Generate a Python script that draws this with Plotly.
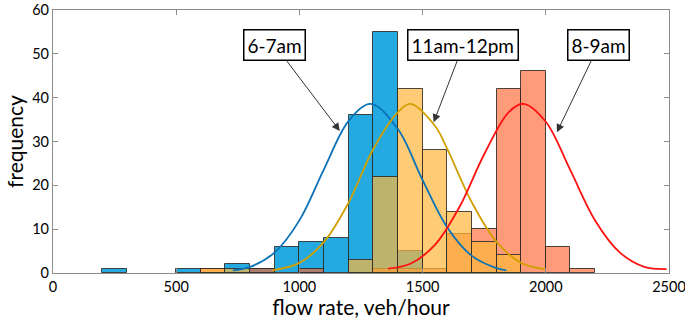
import plotly.graph_objects as go

# ---- data ----
bin_left = [200, 300, 400, 500, 600, 700, 800, 900, 1000, 1100,
            1200, 1300, 1400, 1500, 1600, 1700, 1800, 1900, 2000, 2100]
bin_width = 100
counts_6_7am = [1, 0, 0, 1, 0, 2, 1, 6, 7, 8,
                36, 55, 5, 0, 0, 0, 0, 0, 0, 0]
counts_8_9am = [0, 0, 0, 0, 1, 0, 1, 0, 1, 0,
                0, 1, 1, 1, 9, 10, 42, 46, 6, 1]
counts_11_12 = [0, 0, 0, 0, 1, 1, 0, 0, 0, 0,
                3, 22, 42, 28, 14, 7, 4, 0, 0, 0]

fit_6_7am_x = [730, 800, 900, 1000, 1100, 1200, 1290, 1400, 1500, 1600, 1700, 1800, 1840]
fit_6_7am_y = [0.6, 1.4, 4.7, 12.0, 23.7, 34.7, 38.6, 32.8, 21.2, 10.4, 3.9, 1.1, 0.6]
fit_11_12_x = [890, 1000, 1100, 1200, 1300, 1400, 1450, 1550, 1600, 1700, 1800, 1900, 2000]
fit_11_12_y = [0.6, 2.3, 7.1, 16.1, 28.3, 36.7, 38.6, 33.6, 28.3, 16.1, 7.1, 2.3, 0.8]
fit_8_9am_x = [1360, 1450, 1550, 1650, 1750, 1850, 1910, 2000, 2100, 2200, 2300, 2400, 2490]
fit_8_9am_y = [1.0, 2.1, 6.4, 15.1, 27.1, 36.7, 38.6, 34.5, 23.4, 12.0, 4.7, 1.4, 0.9]

labels = ["6-7am", "11am-12pm", "8-9am"]
label_box_x = [900, 1665, 2215]
label_box_y = [52, 52, 52]
arrow_tip_x = [1164, 1545, 2045]
arrow_tip_y = [32.4, 34.4, 32.1]

x_ticks = [0, 500, 1000, 1500, 2000, 2500]
y_ticks = [0, 10, 20, 30, 40, 50, 60]

# ---- figure ----
FONT = "Lato, 'Open Sans', sans-serif"
centers = [b + bin_width / 2 for b in bin_left]
edge = dict(color="rgba(45,40,35,0.85)", width=1)


def nz(vals):
    return [v if v else None for v in vals]


fig = go.Figure()
fig.add_trace(go.Bar(x=centers, y=nz(counts_6_7am), width=bin_width,
                     marker=dict(color="rgb(36,170,225)", line=edge)))
fig.add_trace(go.Bar(x=centers, y=nz(counts_8_9am), width=bin_width,
                     marker=dict(color="rgba(255,98,45,0.64)", line=edge)))
fig.add_trace(go.Bar(x=centers, y=nz(counts_11_12), width=bin_width,
                     marker=dict(color="rgba(255,183,58,0.7)", line=edge)))

fig.add_trace(go.Scatter(x=fit_6_7am_x, y=fit_6_7am_y, mode="lines",
                         line=dict(color="#0a72b8", width=1.8, shape="spline")))
fig.add_trace(go.Scatter(x=fit_11_12_x, y=fit_11_12_y, mode="lines",
                         line=dict(color="#d1a000", width=1.8, shape="spline")))
fig.add_trace(go.Scatter(x=fit_8_9am_x, y=fit_8_9am_y, mode="lines",
                         line=dict(color="#ff1010", width=1.8, shape="spline")))

for t, bx, by, tx, ty in zip(labels, label_box_x, label_box_y, arrow_tip_x, arrow_tip_y):
    fig.add_annotation(x=tx, y=ty, ax=bx, ay=by, xref="x", yref="y",
                       axref="x", ayref="y", text=t, showarrow=True,
                       arrowhead=2, arrowsize=1.6, arrowwidth=1,
                       arrowcolor="#333333",
                       font=dict(family=FONT, size=19, color="black"),
                       bgcolor="white", bordercolor="black", borderwidth=1.5,
                       borderpad=3)

axis_common = dict(showline=True, linecolor="#8c8c8c", linewidth=1.2,
                   mirror="ticks", ticks="inside", ticklen=5,
                   tickcolor="#8c8c8c", showgrid=False, zeroline=False,
                   automargin=False, ticklabeloverflow="allow",
                   tickfont=dict(family=FONT, size=14.5, color="black"))

fig.update_layout(
    width=685, height=321,
    margin=dict(l=53, r=16, t=10, b=48),
    barmode="overlay", bargap=0,
    showlegend=False,
    plot_bgcolor="white", paper_bgcolor="white",
    xaxis=dict(range=[0, 2500], tickvals=x_ticks,
               title=dict(text="flow rate, veh/hour",
                          font=dict(family=FONT, size=21, color="black"),
                          standoff=2),
               **axis_common),
    yaxis=dict(range=[0, 60], tickvals=y_ticks,
               title=dict(text="frequency",
                          font=dict(family=FONT, size=21, color="black"),
                          standoff=2),
               **axis_common),
)

fig.write_html("out.html", config={"displayModeBar": False},
               post_script="document.body.style.margin='0px';document.body.style.overflow='hidden';")
